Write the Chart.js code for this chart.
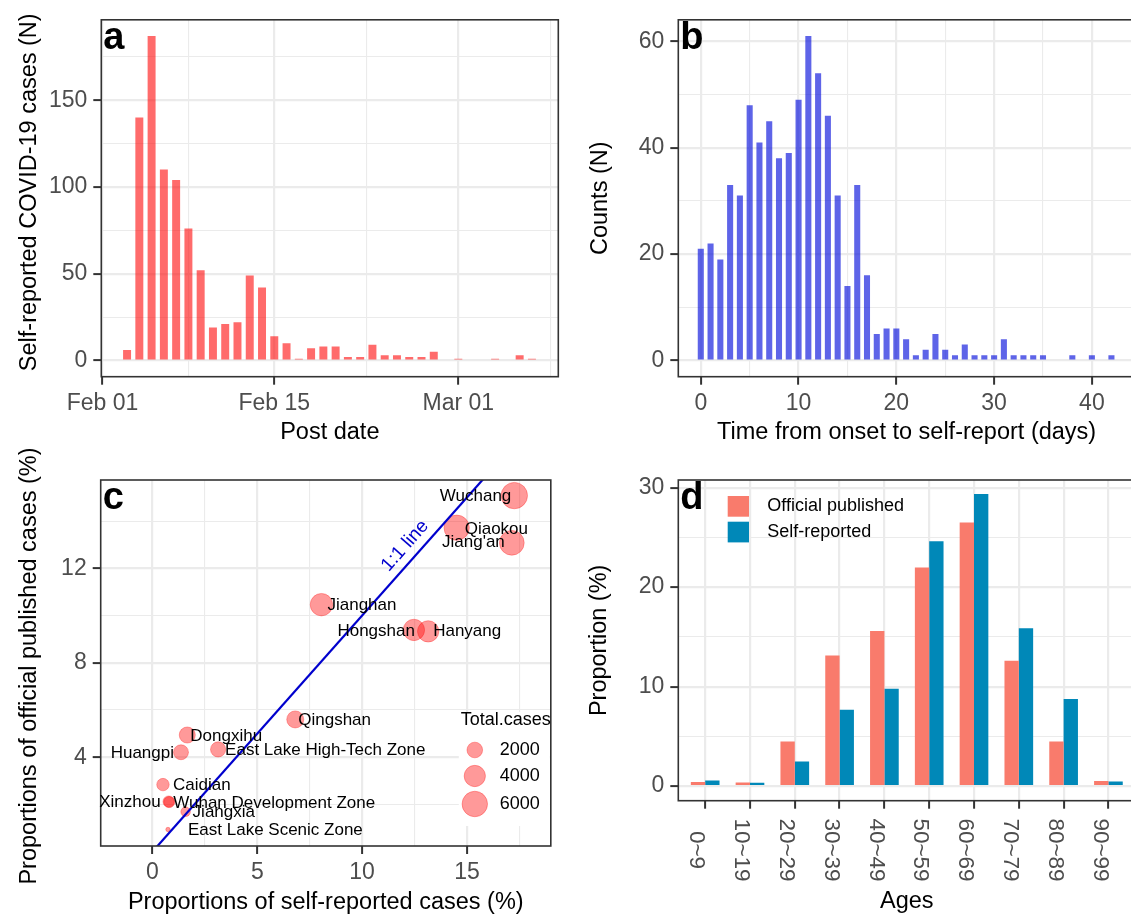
<!DOCTYPE html>
<html>
<head>
<meta charset="utf-8">
<script src="https://cdn.jsdelivr.net/npm/chart.js@4.4.0/dist/chart.umd.min.js"></script>
<style>
  html, body { margin: 0; padding: 0; background: #fff; overflow: hidden; width: 1131px; height: 915px; }
  .panel { position: absolute; }
</style>
</head>
<body>
<div class="panel" style="left:0;top:0;width:565px;height:455px"><canvas id="chartA"></canvas></div>
<div class="panel" style="left:565px;top:0;width:580px;height:455px"><canvas id="chartB"></canvas></div>
<div class="panel" style="left:0;top:430px;width:565px;height:495px"><canvas id="chartC"></canvas></div>
<div class="panel" style="left:565px;top:455px;width:580px;height:470px"><canvas id="chartD"></canvas></div>
<script>
// a: self-reported cases by post date
const postDates = [
  '2020-02-03', '2020-02-04', '2020-02-05', '2020-02-06', '2020-02-07', '2020-02-08', '2020-02-09',
  '2020-02-10', '2020-02-11', '2020-02-12', '2020-02-13', '2020-02-14', '2020-02-15', '2020-02-16',
  '2020-02-17', '2020-02-18', '2020-02-19', '2020-02-20', '2020-02-21', '2020-02-22', '2020-02-23',
  '2020-02-24', '2020-02-25', '2020-02-26', '2020-02-27', '2020-02-28',
  '2020-03-01', '2020-03-04', '2020-03-06', '2020-03-07'
];
const postCounts = [6, 140, 187, 110, 104, 76, 52, 19, 21, 22, 49, 42, 14, 10, 1, 7, 8, 8, 2, 2, 9, 3, 3, 2, 2, 5, 1, 1, 3, 1];
const dateTicks = ['2020-02-01', '2020-02-15', '2020-03-01'];
const dateTickLabels = ['Feb 01', 'Feb 15', 'Mar 01'];

// b: time from onset to self-report
const onsetDays = [0, 1, 2, 3, 4, 5, 6, 7, 8, 9, 10, 11, 12, 13, 14, 15, 16, 17, 18, 19, 20,
  21, 22, 23, 24, 25, 26, 27, 28, 29, 30, 31, 32, 33, 34, 35, 38, 40, 42];
const onsetCounts = [21, 22, 19, 33, 31, 48, 41, 45, 38, 39, 49, 61, 54, 46, 31, 14, 33, 16, 5, 6, 6,
  4, 1, 2, 5, 2, 1, 3, 1, 1, 1, 4, 1, 1, 1, 1, 1, 1, 1];

// c: district proportions
const districts = ['Wuchang', 'Qiaokou', "Jiang'an", 'Jianghan', 'Hongshan', 'Hanyang', 'Qingshan',
  'Dongxihu', 'Huangpi', 'East Lake High-Tech Zone', 'Caidian', 'Xinzhou', 'Wuhan Development Zone',
  'Jiangxia', 'East Lake Scenic Zone'];
const selfShare = [17.26, 14.51, 17.14, 8.06, 12.47, 13.15, 6.81, 1.66, 1.36, 3.13, 0.50, 0.77, 0.80, 1.58, 0.74];
const officialShare = [15.08, 13.72, 13.08, 10.46, 9.39, 9.33, 5.60, 4.94, 4.21, 4.33, 2.84, 2.12, 2.10, 1.69, 0.94];
const totalCases = [6500, 5900, 5630, 4500, 4040, 4010, 2410, 2120, 1810, 1860, 1220, 1000, 950, 730, 400];
const sizeBreaks = [2000, 4000, 6000];

// d: age distribution
const ageGroups = ['0~9', '10~19', '20~29', '30~39', '40~49', '50~59', '60~69', '70~79', '80~89', '90~99'];
const officialAge = [0.40, 0.37, 4.48, 13.13, 15.60, 21.98, 26.49, 12.59, 4.48, 0.50];
const selfAge = [0.57, 0.33, 2.47, 7.68, 9.79, 24.60, 29.36, 15.87, 8.75, 0.47];

const FONT = "'Liberation Sans', Arial, Helvetica, sans-serif";
const INK = '#333333';
const GRID = '#EBEBEB';
const OFFICIAL = '#F97B6C';
const SELF = '#0088B8';

Chart.defaults.font.family = FONT;
Chart.defaults.animation = false;
Chart.defaults.events = [];
Chart.defaults.plugins.legend.display = false;
Chart.defaults.plugins.tooltip.enabled = false;

const dayOf = d => (Date.parse(d) - Date.parse('2020-02-01')) / 86400000;

function axis(o) {
  return {
    type: 'linear', min: o.min, max: o.max, offset: false,
    afterBuildTicks: scale => {
      scale.ticks = o.major.map(v => ({ value: v, minor: false }))
        .concat((o.minor || []).map(v => ({ value: v, minor: true })))
        .filter(t => t.value >= o.min && t.value <= o.max)
        .sort((p, q) => p.value - q.value);
    },
    afterFit: scale => {
      if (o.horizontal) scale.height = o.size; else scale.width = o.size;
    },
    border: { display: false },
    grid: {
      offset: false,
      color: GRID,
      lineWidth: c => (c.tick && c.tick.minor) ? 1.1 : 2.2,
      tickColor: c => (c.tick && c.tick.minor) ? 'rgba(0,0,0,0)' : INK,
      tickWidth: 2,
      tickLength: 8
    },
    ticks: {
      autoSkip: false, maxRotation: 0, minRotation: 0,
      color: '#4D4D4D', font: { size: 23 }, padding: o.horizontal ? 5 : 6,
      callback: (v, i, ticks) => ticks[i].minor ? '' : o.label(v)
    },
    title: { display: false }
  };
}

const framePlugin = {
  id: 'frame',
  afterDatasetsDraw(chart, args, o) {
    const { ctx, chartArea: a } = chart;
    ctx.save();
    ctx.strokeStyle = INK;
    ctx.lineWidth = 1.6;
    ctx.strokeRect(a.left, a.top, a.right - a.left, a.bottom - a.top);
    ctx.fillStyle = '#000';
    ctx.font = `bold 38px ${FONT}`;
    ctx.textAlign = 'left';
    ctx.textBaseline = 'alphabetic';
    ctx.fillText(o.letter, a.left + 2, a.top + 29);
    ctx.font = `23.5px ${FONT}`;
    ctx.textAlign = 'center';
    ctx.textBaseline = 'middle';
    ctx.fillText(o.xTitle, (a.left + a.right) / 2, o.xTitleY);
    ctx.translate(o.yTitleX, (a.top + a.bottom) / 2 + (o.yShift || 0));
    ctx.rotate(-Math.PI / 2);
    ctx.fillText(o.yTitle, 0, 0);
    ctx.restore();
  }
};

// ---- a
new Chart(document.getElementById('chartA'), {
  type: 'bar',
  data: {
    datasets: [{
      data: postDates.map((d, i) => ({ x: dayOf(d), y: postCounts[i] })),
      backgroundColor: 'rgba(255,0,0,0.58)',
      barPercentage: 0.65, categoryPercentage: 1
    }]
  },
  options: {
    responsive: true, maintainAspectRatio: false,
    layout: { padding: { top: 11, right: 6.7, left: 0, bottom: 0 } },
    scales: {
      x: axis({
        horizontal: true, size: 78.3, min: -0.1, max: 37.15,
        major: dateTicks.map(dayOf),
        minor: dateTicks.map(dayOf).map((v, i, arr) => i < arr.length - 1 ? (v + arr[i + 1]) / 2 : v + (v - arr[i - 1]) / 2),
        label: v => dateTickLabels[dateTicks.map(dayOf).indexOf(v)]
      }),
      y: axis({
        size: 101.3, min: -9.35, max: 196.35,
        major: [0, 50, 100, 150], minor: [25, 75, 125, 175],
        label: v => String(v)
      })
    },
    plugins: { frame: { letter: 'a', xTitle: 'Post date', xTitleY: 433, yTitle: 'Self-reported COVID-19 cases (N)', yTitleX: 30, yShift: -6 } }
  },
  plugins: [framePlugin]
});

// ---- b
new Chart(document.getElementById('chartB'), {
  type: 'bar',
  data: {
    datasets: [{
      data: onsetDays.map((d, i) => ({ x: d, y: onsetCounts[i] })),
      backgroundColor: 'rgba(10,20,220,0.66)',
      barPercentage: 0.62, categoryPercentage: 1
    }]
  },
  options: {
    responsive: true, maintainAspectRatio: false,
    layout: { padding: { top: 11, right: 10.1, left: 0, bottom: 0 } },
    scales: {
      x: axis({
        horizontal: true, size: 78.3, min: -2.3, max: 44.4,
        major: [0, 10, 20, 30, 40], minor: [5, 15, 25, 35],
        label: v => String(v)
      }),
      y: axis({
        size: 113.3, min: -3.05, max: 64.05,
        major: [0, 20, 40, 60], minor: [10, 30, 50],
        label: v => String(v)
      })
    },
    plugins: { frame: { letter: 'b', xTitle: 'Time from onset to self-report (days)', xTitleY: 433, yTitle: 'Counts (N)', yTitleX: 36 } }
  },
  plugins: [framePlugin]
});

// ---- c
const caseMin = Math.min(...totalCases);
const caseMax = Math.max(...totalCases);
const caseRadius = v => 2.2 * (1 + 5 * Math.sqrt(Math.max(0, v - caseMin) / (caseMax - caseMin)));
const POINT_FILL = 'rgba(255,0,0,0.4)';
const POINT_EDGE = 'rgba(255,0,0,0.3)';

// label placement: [dx, dy, align] relative to the point
const labelNudge = [
  [-3, 1, 'right'], [8, 2, 'left'], [-7, 0, 'right'], [6, 1, 'left'], [1, 1, 'right'],
  [5, 0, 'left'], [3, 1, 'left'], [3, 1, 'left'], [-7, 1, 'right'], [7, 1, 'left'],
  [10, 1, 'left'], [-8, 1, 'right'], [4, 1, 'left'], [7, 1, 'left'], [20, 1, 'left']
];

const districtPlugin = {
  id: 'districts',
  afterDatasetsDraw(chart) {
    const { ctx, chartArea: a, scales: { x, y } } = chart;
    ctx.save();
    ctx.font = `17px ${FONT}`;
    ctx.fillStyle = '#000';
    ctx.textBaseline = 'middle';
    districts.forEach((name, i) => {
      const [dx, dy, side] = labelNudge[i];
      ctx.textAlign = side;
      ctx.fillText(name, x.getPixelForValue(selfShare[i]) + dx, y.getPixelForValue(officialShare[i]) + dy);
    });

    // 1:1 line label
    const ang = Math.atan2(y.getPixelForValue(1) - y.getPixelForValue(0), x.getPixelForValue(1) - x.getPixelForValue(0));
    ctx.save();
    ctx.translate(x.getPixelForValue(12.05), y.getPixelForValue(12.95));
    ctx.rotate(ang);
    ctx.fillStyle = '#0000CD';
    ctx.font = `19px ${FONT}`;
    ctx.textAlign = 'center';
    ctx.fillText('1:1 line', 0, 0);
    ctx.restore();

    // size legend
    ctx.fillStyle = '#fff';
    ctx.fillRect(a.right - 92, a.bottom - 134, 91, 114);
    ctx.fillStyle = '#000';
    ctx.font = `18px ${FONT}`;
    ctx.textAlign = 'left';
    ctx.fillText('Total.cases', a.right - 90, a.bottom - 126);
    const keyY = [a.bottom - 96, a.bottom - 70, a.bottom - 42];
    sizeBreaks.forEach((b, i) => {
      ctx.beginPath();
      ctx.arc(a.right - 76, keyY[i], caseRadius(b), 0, Math.PI * 2);
      ctx.fillStyle = POINT_FILL;
      ctx.fill();
      ctx.strokeStyle = POINT_EDGE;
      ctx.lineWidth = 1;
      ctx.stroke();
      ctx.fillStyle = '#000';
      ctx.fillText(String(b), a.right - 51, keyY[i]);
    });
    ctx.restore();
  }
};

new Chart(document.getElementById('chartC'), {
  type: 'bubble',
  data: {
    datasets: [{
      type: 'line',
      data: [-5, 25].map(v => ({ x: v, y: v })),
      borderColor: '#0000CD', borderWidth: 2.2, pointRadius: 0, fill: false, order: 0
    }, {
      type: 'bubble',
      data: districts.map((_, i) => ({ x: selfShare[i], y: officialShare[i], r: caseRadius(totalCases[i]) })),
      backgroundColor: POINT_FILL, borderColor: POINT_EDGE, borderWidth: 1, order: 1
    }]
  },
  options: {
    responsive: true, maintainAspectRatio: false,
    layout: { padding: { top: 50, right: 6.7, left: 0, bottom: 0 } },
    scales: {
      x: axis({
        horizontal: true, size: 79, min: -2.47, max: 19.0,
        major: [0, 5, 10, 15], minor: [2.5, 7.5, 12.5, 17.5],
        label: v => String(v)
      }),
      y: axis({
        size: 100.7, min: 0.24, max: 15.74,
        major: [4, 8, 12], minor: [2, 6, 10, 14],
        label: v => String(v)
      })
    },
    plugins: { frame: { letter: 'c', xTitle: 'Proportions of self-reported cases (%)', xTitleY: 473, yTitle: 'Proportions of official published cases (%)', yTitleX: 30, yShift: 3 } }
  },
  plugins: [framePlugin, districtPlugin]
});

// ---- d
const agePlugin = {
  id: 'ages',
  afterDatasetsDraw(chart) {
    const { ctx, chartArea: a, scales: { x }, data } = chart;
    ctx.save();
    ctx.font = `22.5px ${FONT}`;
    ctx.fillStyle = '#4D4D4D';
    ctx.textAlign = 'center';
    ctx.textBaseline = 'middle';
    ageGroups.forEach((g, i) => {
      ctx.save();
      ctx.translate(x.getPixelForValue(i + 1) - 8.5, a.bottom + 49.3);
      ctx.rotate(Math.PI / 2);
      ctx.fillText(g, 0, 0);
      ctx.restore();
    });
    ctx.font = `18px ${FONT}`;
    ctx.textAlign = 'left';
    data.datasets.forEach((ds, i) => {
      const top = a.top + 16 + i * 25.7;
      ctx.fillStyle = ds.backgroundColor;
      ctx.fillRect(a.left + 49.4, top, 21.3, 20.7);
      ctx.fillStyle = '#000';
      ctx.fillText(ds.label, a.left + 89, top + 10.5);
    });
    ctx.restore();
  }
};

new Chart(document.getElementById('chartD'), {
  type: 'bar',
  data: {
    datasets: [{
      label: 'Official published',
      data: officialAge.map((v, i) => ({ x: i + 1, y: v })),
      backgroundColor: OFFICIAL, barPercentage: 1, categoryPercentage: 0.64
    }, {
      label: 'Self-reported',
      data: selfAge.map((v, i) => ({ x: i + 1, y: v })),
      backgroundColor: SELF, barPercentage: 1, categoryPercentage: 0.64
    }]
  },
  options: {
    responsive: true, maintainAspectRatio: false,
    layout: { padding: { top: 25, right: 9.7, left: 0, bottom: 0 } },
    scales: {
      x: axis({
        horizontal: true, size: 124.3, min: 0.4, max: 10.6,
        major: ageGroups.map((_, i) => i + 1), minor: [],
        label: () => ''
      }),
      y: axis({
        size: 113.3, min: -1.47, max: 30.77,
        major: [0, 10, 20, 30], minor: [5, 15, 25],
        label: v => String(v)
      })
    },
    plugins: { frame: { letter: 'd', xTitle: 'Ages', xTitleY: 447, yTitle: 'Proportion (%)', yTitleX: 35 } }
  },
  plugins: [framePlugin, agePlugin]
});
</script>
</body>
</html>
